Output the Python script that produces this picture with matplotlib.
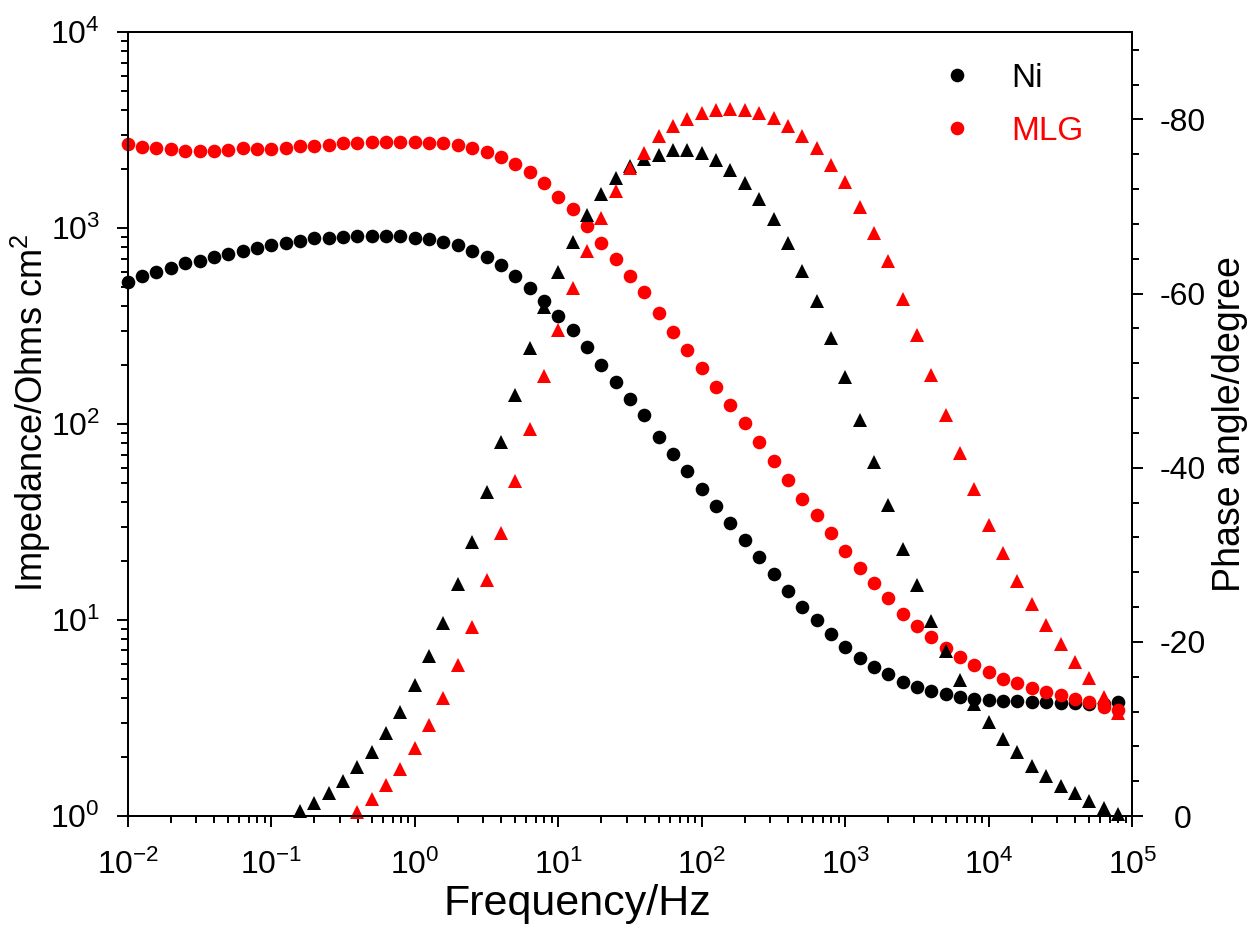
import numpy as np
import matplotlib
matplotlib.use('Agg')
import matplotlib.pyplot as plt
from matplotlib.ticker import LogLocator, LogFormatterSciNotation, MultipleLocator, NullFormatter

plt.rcParams['font.family'] = ['Liberation Sans', 'DejaVu Sans']
plt.rcParams['mathtext.fontset'] = 'custom'
plt.rcParams['mathtext.rm'] = 'Liberation Sans'
plt.rcParams['mathtext.it'] = 'Liberation Sans:italic'
plt.rcParams['axes.unicode_minus'] = False

# frequency sweep, 10 points per decade
freq = [
    0.01, 0.01259, 0.01585, 0.01995, 0.02512, 0.03162, 0.03981, 0.05012, 0.0631, 0.07943,
    0.1, 0.1259, 0.1585, 0.1995, 0.2512, 0.3162, 0.3981, 0.5012, 0.631, 0.7943,
    1.0, 1.259, 1.585, 1.995, 2.512, 3.162, 3.981, 5.012, 6.31, 7.943,
    10.0, 12.59, 15.85, 19.95, 25.12, 31.62, 39.81, 50.12, 63.1, 79.43,
    100.0, 125.9, 158.5, 199.5, 251.2, 316.2, 398.1, 501.2, 631.0, 794.3,
    1000.0, 1259.0, 1585.0, 1995.0, 2512.0, 3162.0, 3981.0, 5012.0, 6310.0, 7943.0,
    10000.0, 12590.0, 15850.0, 19950.0, 25120.0, 31620.0, 39810.0, 50120.0, 63100.0, 79430.0,
]

# |Z| in Ohm cm2
z_ni = [
    534, 573, 600, 625, 663, 681, 711, 739, 769, 790,
    822, 845, 864, 889, 896, 906, 913, 917, 913, 913,
    896, 879, 855, 822, 769, 711, 650, 571, 494, 426,
    358, 303, 247, 201, 165, 135, 111, 86.4, 70.4, 57.4,
    46.7, 38.2, 31.3, 25.6, 21.0, 17.2, 14.1, 11.7, 10.0, 8.49,
    7.32, 6.43, 5.74, 5.31, 4.85, 4.54, 4.35, 4.20, 4.06, 3.96,
    3.91, 3.88, 3.86, 3.83, 3.80, 3.79, 3.76, 3.73, 3.75, 3.80,
]
z_mlg = [
    2685, 2611, 2579, 2531, 2490, 2482, 2482, 2511, 2579, 2540,
    2540, 2579, 2640, 2640, 2663, 2716, 2735, 2748, 2760, 2768,
    2768, 2735, 2716, 2663, 2560, 2461, 2321, 2130, 1931, 1698,
    1449, 1250, 1028, 845, 695, 571, 471, 371, 297, 239,
    193, 155, 125, 101, 80.9, 64.9, 51.6, 41.5, 34.4, 27.9,
    22.6, 18.4, 15.4, 12.9, 10.8, 9.33, 8.17, 7.23, 6.46, 5.90,
    5.41, 5.01, 4.76, 4.49, 4.31, 4.15, 3.94, 3.83, 3.61, 3.48,
]

# phase angle in degrees (nan = outside the plotted range)
phase_ni = [np.nan] * 12 + [
    -0.6, -1.5, -2.7, -4.0, -5.6, -7.3, -9.5, -11.9, -15.0, -18.4,
    -22.2, -26.6, -31.5, -37.2, -42.9, -48.4, -53.8, -58.5, -62.5, -65.9,
    -69.0, -71.4, -73.3, -74.7, -75.4, -75.9, -76.5, -76.5, -76.1, -75.3,
    -74.2, -72.7, -70.8, -68.6, -65.8, -62.6, -59.2, -54.9, -50.4, -45.5,
    -40.6, -35.7, -30.7, -26.5, -22.4, -18.9, -15.6, -12.9, -10.8, -8.9,
    -7.3, -5.8, -4.6, -3.4, -2.6, -1.7, -0.9, -0.2,
]
phase_mlg = [np.nan] * 16 + [
    -0.5, -1.9, -3.6, -5.4, -7.8, -10.4, -13.6, -17.3, -21.7, -27.1,
    -32.5, -38.5, -44.4, -50.5, -55.8, -60.6, -64.9, -68.7, -71.8, -74.4,
    -76.1, -78.1, -79.2, -80.0, -80.7, -81.1, -81.2, -81.1, -80.7, -80.1,
    -79.2, -78.1, -76.7, -74.8, -72.8, -69.9, -67.0, -63.7, -59.4, -55.2,
    -50.7, -46.0, -41.7, -37.5, -33.4, -30.2, -27.0, -24.3, -21.9, -19.7,
    -17.7, -15.8, -13.7, -11.8,
]

labels = ['Ni', 'MLG']
colors = ['black', '#ff0000']
freq_ticks = [1e-2, 1e-1, 1e0, 1e1, 1e2, 1e3, 1e4, 1e5]
z_ticks = [1e0, 1e1, 1e2, 1e3, 1e4]
phase_ticks = [0, -20, -40, -60, -80]

fig = plt.figure(figsize=(12.55, 9.25), dpi=100)
ax = fig.add_axes([0.1018, 0.1178, 0.8004, 0.8473])
ax2 = ax.twinx()

# impedance modulus as circles, phase as triangles on the twin axis
circles = []
for z, c, lab in zip([z_ni, z_mlg], colors, labels):
    ln, = ax.plot(freq, z, 'o', color=c, markersize=9.8, markeredgewidth=0,
                  clip_on=False, label=lab)
    circles.append(ln)
for ph, c in zip([phase_ni, phase_mlg], colors):
    ax2.plot(freq, ph, '^', color=c, markersize=10, markeredgewidth=0, clip_on=False)

ax.set_xscale('log')
ax.set_yscale('log')
ax.set_xlim(1e-2, 1e5)
ax.set_ylim(1, 1e4)
ax2.set_ylim(0, -90)

ax.set_xticks(freq_ticks)
ax.set_yticks(z_ticks)
for a in (ax.xaxis, ax.yaxis):
    a.set_minor_locator(LogLocator(base=10, subs=np.arange(2, 10), numticks=20))
    a.set_major_formatter(LogFormatterSciNotation())
    a.set_minor_formatter(NullFormatter())
ax.set_xlim(1e-2, 1e5)
ax.set_ylim(1, 1e4)

ax2.set_yticks(phase_ticks)
ax2.yaxis.set_minor_locator(MultipleLocator(4))

for spine in list(ax.spines.values()) + list(ax2.spines.values()):
    spine.set_linewidth(1.4)

ax.tick_params(which='major', direction='out', length=8, width=1.4, labelsize=23, pad=12)
ax.tick_params(which='minor', direction='out', length=5, width=1.4)
ax.tick_params(axis='x', pad=16)
ax2.tick_params(which='major', direction='out', length=8, width=1.4, labelsize=23, pad=28)
ax2.tick_params(which='minor', direction='out', length=5, width=1.4)
for t in ax2.get_yticklabels():
    t.set_horizontalalignment('center')

ax.set_xlabel('Frequency/Hz', fontsize=31)
ax.set_ylabel('Impedance/Ohms cm$^2$', fontsize=26)
ax2.set_ylabel('Phase angle/degree', fontsize=27)
ax.xaxis.set_label_coords(0.448, -0.087)
ax.yaxis.set_label_coords(-0.074, 0.515)
ax2.yaxis.set_label_coords(1.079, 0.5)

leg = ax2.legend(handles=circles, loc='upper left', bbox_to_anchor=(0.812, 0.961),
                 frameon=False, fontsize=24, handlelength=0.8, handletextpad=1.25,
                 labelspacing=0.66, borderpad=0, borderaxespad=0, labelcolor='linecolor')

fig.savefig('out.png', dpi=100)
